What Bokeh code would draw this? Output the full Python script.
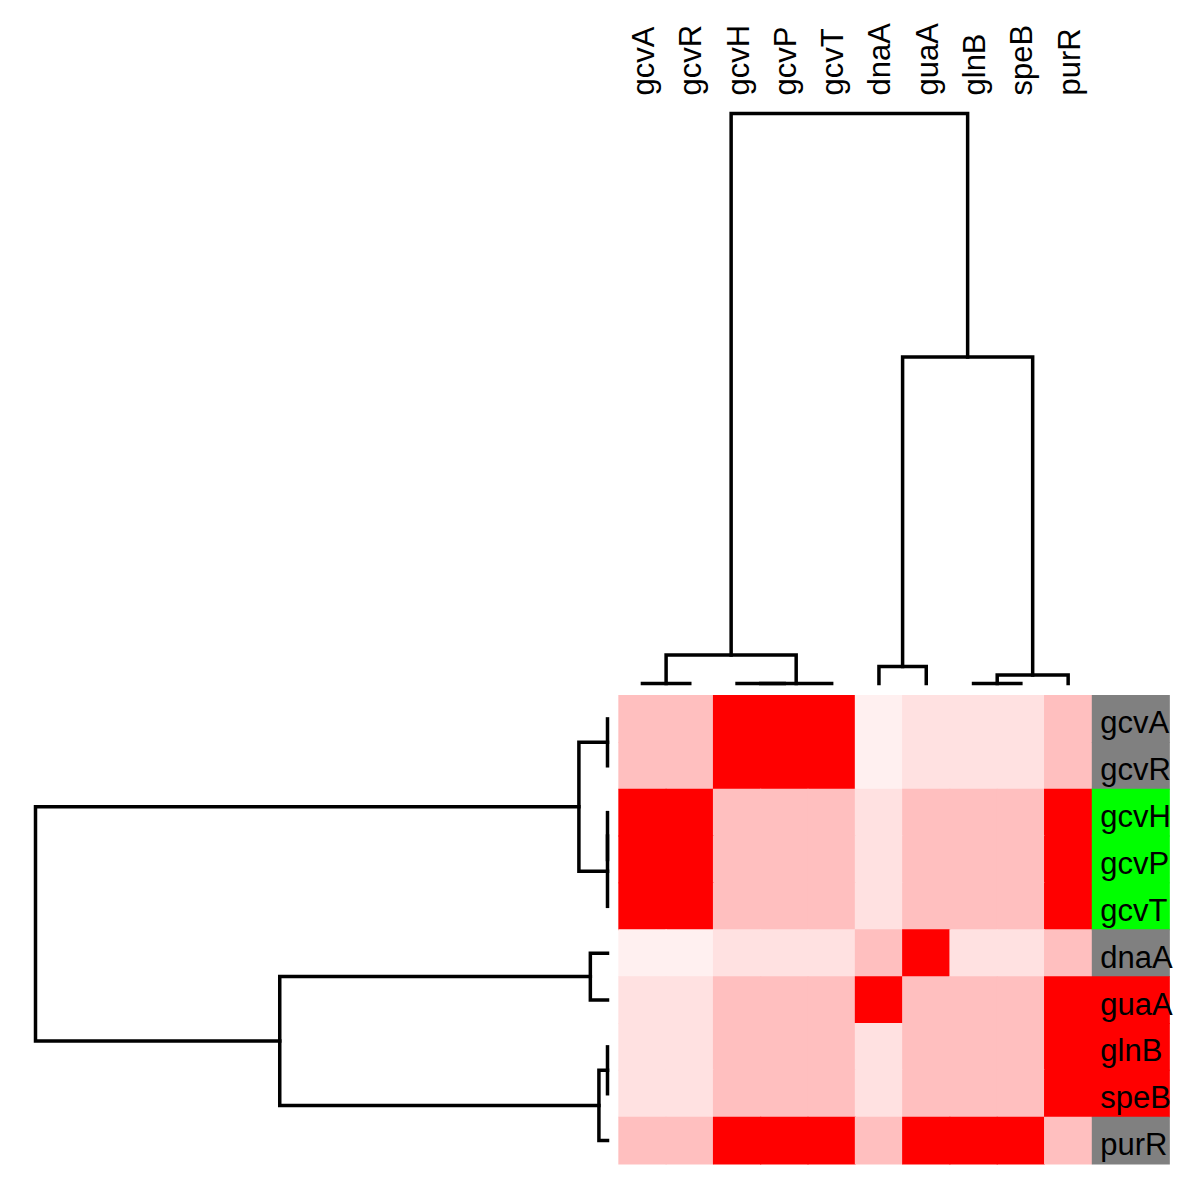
import math
from bokeh.plotting import figure
from bokeh.models import Range1d, ColumnDataSource, LinearColorMapper
from bokeh.transform import transform
from bokeh.core.properties import value
from bokeh.embed import file_html
from bokeh.resources import INLINE

# ---------------- data ----------------
genes = ["gcvA", "gcvR", "gcvH", "gcvP", "gcvT", "dnaA", "guaA", "glnB", "speB", "purR"]

row_gcvA = [0.25, 0.25, 1.00, 1.00, 1.00, 0.06, 0.12, 0.12, 0.12, 0.25]
row_gcvR = [0.25, 0.25, 1.00, 1.00, 1.00, 0.06, 0.12, 0.12, 0.12, 0.25]
row_gcvH = [1.00, 1.00, 0.25, 0.25, 0.25, 0.12, 0.25, 0.25, 0.25, 1.00]
row_gcvP = [1.00, 1.00, 0.25, 0.25, 0.25, 0.12, 0.25, 0.25, 0.25, 1.00]
row_gcvT = [1.00, 1.00, 0.25, 0.25, 0.25, 0.12, 0.25, 0.25, 0.25, 1.00]
row_dnaA = [0.06, 0.06, 0.12, 0.12, 0.12, 0.25, 1.00, 0.12, 0.12, 0.25]
row_guaA = [0.12, 0.12, 0.25, 0.25, 0.25, 1.00, 0.25, 0.25, 0.25, 1.00]
row_glnB = [0.12, 0.12, 0.25, 0.25, 0.25, 0.12, 0.25, 0.25, 0.25, 1.00]
row_speB = [0.12, 0.12, 0.25, 0.25, 0.25, 0.12, 0.25, 0.25, 0.25, 1.00]
row_purR = [0.25, 0.25, 1.00, 1.00, 1.00, 0.25, 1.00, 1.00, 1.00, 0.25]
matrix = [row_gcvA, row_gcvR, row_gcvH, row_gcvP, row_gcvT,
          row_dnaA, row_guaA, row_glnB, row_speB, row_purR]

row_groups = ["other", "other", "gcv", "gcv", "gcv", "other", "red", "red", "red", "other"]

# hierarchical clustering (same tree for rows and columns): (left, right, height)
merges = [
    (0, 1, 0.0),      # 10 gcvA+gcvR
    (2, 3, 0.0),      # 11 gcvH+gcvP
    (11, 4, 0.0),     # 12 +gcvT
    (10, 12, 0.05),   # 13
    (5, 6, 0.03),     # 14 dnaA+guaA
    (7, 8, 0.0),      # 15 glnB+speB
    (15, 9, 0.015),   # 16 +purR
    (14, 16, 0.573),  # 17
    (13, 17, 1.0),    # 18 root
]

# ---------------- layout ----------------
W, H = 1200, 1189
CELL_W, CELL_H = 47.3, 46.85          # px per cell
HEAT_L, HEAT_T = 618.3, 695.0          # heatmap top-left in canvas px
x0 = -HEAT_L / CELL_W
x1 = (W - HEAT_L) / CELL_W
y_top = -HEAT_T / CELL_H
y_bot = (H - HEAT_T) / CELL_H

TOP_LEAF = (683.0 - HEAT_T) / CELL_H   # leaf level for column dendrogram
TOP_ROOT = (113.0 - HEAT_T) / CELL_H
LEFT_LEAF = (607.0 - HEAT_L) / CELL_W
LEFT_ROOT = (35.0 - HEAT_L) / CELL_W

group_colors = {"other": "#808080", "gcv": "#00ff00", "red": "#ff0000"}
FONT = "Liberation Sans"
FS = "31px"

p = figure(width=W, height=H, x_range=Range1d(x0, x1), y_range=Range1d(y_bot, y_top),
           min_border=0, toolbar_location=None, output_backend="svg",
           x_axis_location=None, y_axis_location=None)
p.grid.visible = False
p.outline_line_color = None
p.background_fill_color = "white"
p.border_fill_color = "white"

# heatmap
xs, ys, vs = [], [], []
for r, row in enumerate(matrix):
    for c, v in enumerate(row):
        xs.append(c + 0.5)
        ys.append(r + 0.5)
        vs.append(v)
palette = ["#ff%02x%02x" % (255 - i, 255 - i) for i in range(256)]
mapper = LinearColorMapper(palette=palette, low=0, high=1)
src = ColumnDataSource(dict(x=xs, y=ys, v=vs))
p.rect(x="x", y="y", width=1.02, height=1.02, source=src,
       fill_color=transform("v", mapper), line_color=None)

# row colour bar
BAR_W = 1.65
p.rect(x=[10 + BAR_W / 2] * len(genes), y=[i + 0.5 for i in range(len(genes))],
       width=BAR_W, height=1.02, fill_color=[group_colors[g] for g in row_groups],
       line_color=None)

# labels
p.text(x=[10.18] * len(genes), y=[i + 0.5 for i in range(len(genes))], text=genes,
       text_font=value(FONT), text_font_size=FS, text_align="left",
       text_baseline="middle", text_color="black", y_offset=4)
p.text(x=[i + 0.5 for i in range(len(genes))], y=[(95.0 - HEAT_T) / CELL_H] * len(genes),
       text=genes, angle=math.pi / 2, text_font=value(FONT), text_font_size=FS,
       text_align="left", text_baseline="middle", text_color="black", x_offset=1)

# dendrogram geometry
pos = {i: i + 0.5 for i in range(len(genes))}
hgt = {i: 0.0 for i in range(len(genes))}
paths = []
for k, (a, b, h) in enumerate(merges):
    nid = len(genes) + k
    paths.append(((pos[a], hgt[a]), (pos[a], h), (pos[b], h), (pos[b], hgt[b])))
    pos[nid] = (pos[a] + pos[b]) / 2
    hgt[nid] = h

def top_y(h):
    return TOP_LEAF + h * (TOP_ROOT - TOP_LEAF)

def left_x(h):
    return LEFT_LEAF + h * (LEFT_ROOT - LEFT_LEAF)

p.multi_line(xs=[[pt[0] for pt in path] for path in paths],
             ys=[[top_y(pt[1]) for pt in path] for path in paths],
             line_color="black", line_width=3.5, line_join="miter", line_cap="square")
p.multi_line(xs=[[left_x(pt[1]) for pt in path] for path in paths],
             ys=[[pt[0] for pt in path] for path in paths],
             line_color="black", line_width=3.5, line_join="miter", line_cap="square")

open("out.html", "w").write(file_html(p, INLINE))
